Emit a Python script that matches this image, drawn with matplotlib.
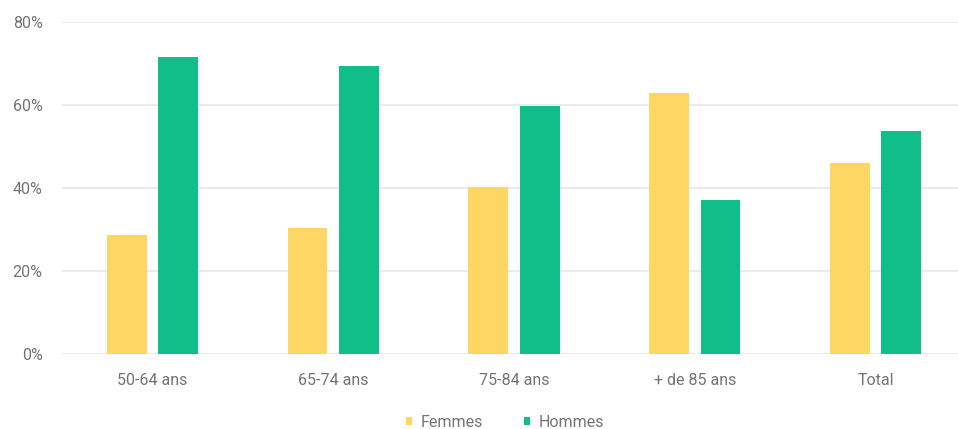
import matplotlib
matplotlib.use("Agg")
import matplotlib.pyplot as plt
import numpy as np

categories = ["50-64 ans", "65-74 ans", "75-84 ans", "+ de 85 ans", "Total"]
femmes = [28.6, 30.4, 40.1, 62.8, 46.1]
hommes = [71.4, 69.4, 59.7, 37.0, 53.6]
yticks = [0, 20, 40, 60, 80]

YELLOW = "#FDD663"
GREEN = "#10BE8A"
GRID = "#EBEBEB"
TEXT = "#747474"

plt.rcParams["font.family"] = ["Roboto", "DejaVu Sans"]

fig = plt.figure(figsize=(9.58, 4.29), dpi=100)
ax = fig.add_axes([0.0647, 0.1748, 0.9436, 0.7746])

x = np.arange(len(categories))
w = 0.22
ax.bar(x - 0.142, femmes, w, color=YELLOW, label="Femmes", zorder=3)
ax.bar(x + 0.142, hommes, w, color=GREEN, label="Hommes", zorder=3)

ax.set_xlim(-0.5, 4.5)
ax.set_ylim(0, 80)
ax.set_yticks(yticks)
ax.set_yticklabels([f"{v}%" for v in yticks])
ax.set_xticks(x)
ax.set_xticklabels(categories)
ax.grid(axis="y", color=GRID, linewidth=1.5, zorder=0)
ax.set_axisbelow(True)
for s in ax.spines.values():
    s.set_visible(False)
ax.tick_params(axis="both", length=0, colors=TEXT, labelsize=11.5)
ax.tick_params(axis="y", pad=14)
ax.tick_params(axis="x", pad=14)

leg = fig.legend(loc="center", bbox_to_anchor=(0.527, 0.016), ncol=2, frameon=False,
                 fontsize=11.5, handlelength=0.4, handleheight=0.4,
                 handletextpad=0.5, columnspacing=2.6)
for t in leg.get_texts():
    t.set_color(TEXT)

fig.savefig("out.png", dpi=100)
